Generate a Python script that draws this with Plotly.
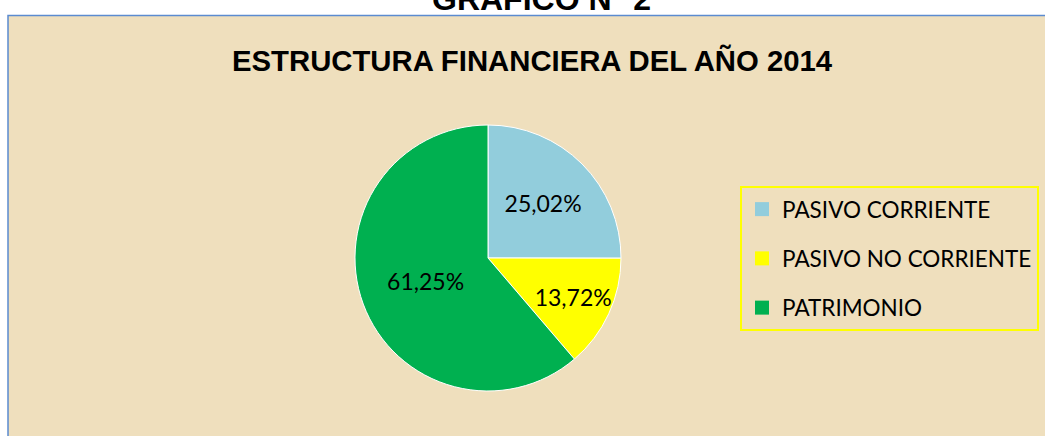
import plotly.graph_objects as go

W, H = 1045, 436

categories = ["PASIVO CORRIENTE", "PASIVO NO CORRIENTE", "PATRIMONIO"]
values = [25.02, 13.72, 61.25]
colors = ["#92CDDC", "#FFFF00", "#00B050"]
header_text = "GRAFICO N° 2"
title_text = "ESTRUCTURA FINANCIERA DEL AÑO 2014"

def px(x):
    return x / W

def py(y):
    return 1 - y / H

cx, cy, r = 488, 258, 133

fig = go.Figure()

fig.add_trace(go.Pie(
    labels=categories,
    values=values,
    marker=dict(colors=colors, line=dict(color="white", width=1)),
    sort=False,
    direction="clockwise",
    rotation=0,
    texttemplate="%{value:.2f}%",
    textposition="inside",
    insidetextorientation="horizontal",
    textfont=dict(family="Lato", size=23, color="black"),
    domain=dict(x=[px(cx - r), px(cx + r)], y=[py(cy + r), py(cy - r)]),
    showlegend=False,
    hoverinfo="label+percent",
))

# legend entries
for i, (cat, col) in enumerate(zip(categories, colors)):
    fig.add_trace(go.Scatter(
        x=[None], y=[None], mode="markers",
        marker=dict(symbol="square", size=14, color=col),
        name=cat, legendgroup=f"g{i}", showlegend=True,
    ))

fig.update_layout(
    width=W, height=H,
    margin=dict(l=0, r=0, t=0, b=0),
    paper_bgcolor="white",
    plot_bgcolor="rgba(0,0,0,0)",
    separators=",.",
    uniformtext=dict(minsize=23, mode="show"),
    xaxis=dict(visible=False),
    yaxis=dict(visible=False),
    showlegend=True,
    legend=dict(
        x=px(740), y=py(186), xanchor="left", yanchor="top",
        bordercolor="#FFFF00", borderwidth=2,
        bgcolor="rgba(0,0,0,0)",
        font=dict(family="Lato", size=22.5, color="black"),
        tracegroupgap=17,
    ),
    shapes=[dict(
        type="rect", xref="paper", yref="paper",
        x0=px(8), y0=py(15.5), x1=1.02, y1=-0.02,
        line=dict(color="#5B8BD0", width=1.5),
        fillcolor="#EFDFBD", layer="below",
    )],
    annotations=[
        dict(text=f"<b>{header_text}</b>", xref="paper", yref="paper",
             x=px(541), y=py(19), xanchor="center", yanchor="bottom",
             showarrow=False, font=dict(family="Liberation Sans", size=32, color="black")),
        dict(text=f"<b>{title_text}</b>", xref="paper", yref="paper",
             x=px(532), y=py(60), xanchor="center", yanchor="middle",
             showarrow=False, font=dict(family="Liberation Sans", size=29.3, color="black")),
    ],
)

fig.write_html("out.html", config={"displayModeBar": False},
               post_script="document.body.style.margin='0';")
